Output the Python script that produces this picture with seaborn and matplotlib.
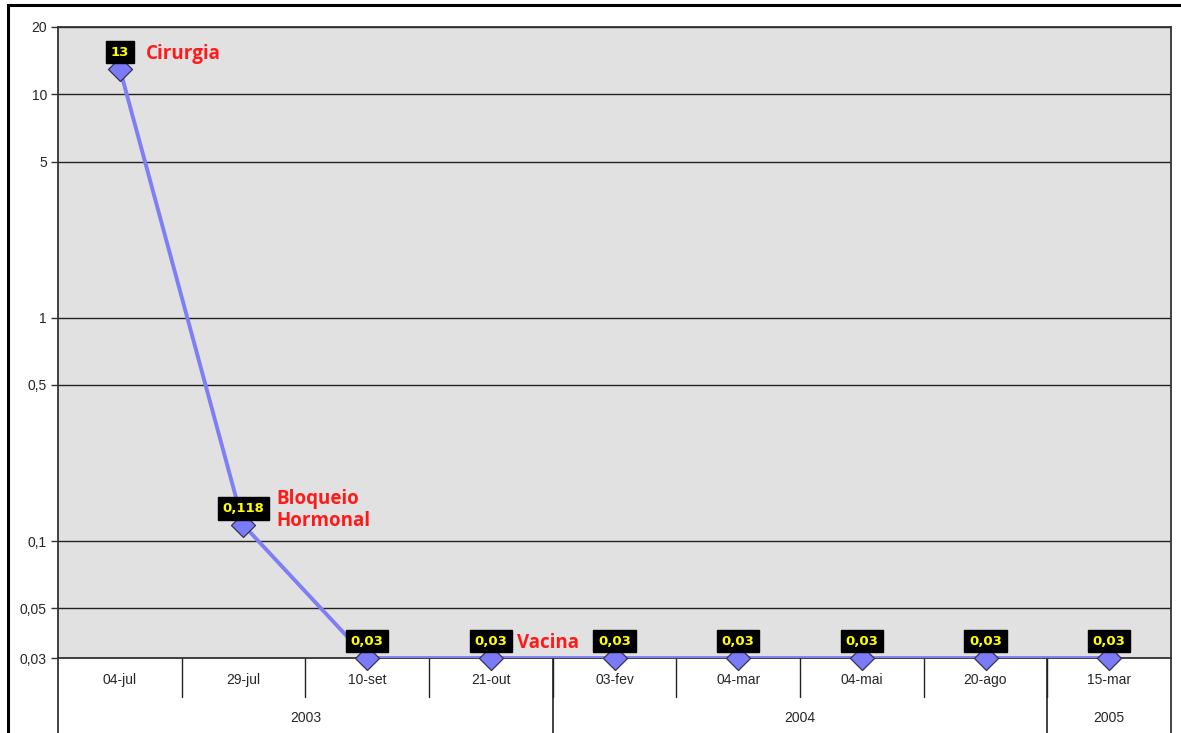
import numpy as np
import matplotlib
matplotlib.use("Agg")
import matplotlib.pyplot as plt
import matplotlib.ticker as mticker
from matplotlib.patches import Rectangle
import seaborn as sns

# data
datas = ["04-jul", "29-jul", "10-set", "21-out", "03-fev", "04-mar", "04-mai", "20-ago", "15-mar"]
valores = [13, 0.118, 0.03, 0.03, 0.03, 0.03, 0.03, 0.03, 0.03]
rotulos = ["13", "0,118", "0,03", "0,03", "0,03", "0,03", "0,03", "0,03", "0,03"]
anos = ["2003", "2004", "2005"]
n_por_ano = [4, 4, 1]
y_ticks = [0.03, 0.05, 0.1, 0.5, 1, 5, 10, 20]
y_tick_labels = ["0,03", "0,05", "0,1", "0,5", "1", "5", "10", "20"]
eventos = {0: "Cirurgia", 1: "Bloqueio\nHormonal", 3: "Vacina"}

sns.set_style("white")
plt.rcParams["font.family"] = ["Liberation Sans", "DejaVu Sans"]

fig = plt.figure(figsize=(11.81, 7.33), dpi=100)
ax = fig.add_axes([58 / 1181, 75 / 733, (1171 - 58) / 1181, 631 / 733])
ax.set_facecolor("#e1e1e1")

pos = np.arange(len(datas))
ax.set_yscale("log")
# line is clipped at the plot area, markers are not
sns.lineplot(x=pos, y=valores, ax=ax, color="#7f7ff5", linewidth=2.8, zorder=4)
sns.scatterplot(x=pos, y=valores, ax=ax, marker="D", s=150, color="#7b7bf7",
                edgecolor="#333355", linewidth=0.9, clip_on=False, zorder=5)

ax.set_ylim(0.03, 20)
ax.set_xlim(-0.5, len(datas) - 0.5)
ax.yaxis.set_major_locator(mticker.FixedLocator(y_ticks))
ax.yaxis.set_major_formatter(mticker.FixedFormatter(y_tick_labels))
ax.yaxis.set_minor_locator(mticker.NullLocator())
ax.tick_params(axis="y", left=True, length=5, width=1, color="#333333",
               labelsize=10, pad=3)
ax.set_xticks([])
ax.grid(axis="y", color="#222222", linewidth=1)
for s in ax.spines.values():
    s.set_color("#333333")
    s.set_linewidth(1.3)

# data labels
for i, (v, r) in enumerate(zip(valores, rotulos)):
    ax.annotate(r, (i, v), xytext=(0, 12), textcoords="offset points",
                ha="center", va="center", color="#ffff00", fontsize=9.5,
                fontweight="bold", family="DejaVu Sans",
                bbox=dict(boxstyle="square,pad=0.35", fc="black", ec="black"),
                zorder=6, annotation_clip=False)

# event labels
for i, txt in eventos.items():
    dx = 33 if i == 1 else 26
    ax.annotate(txt, (i, valores[i]), xytext=(dx * 0.72, 11), textcoords="offset points",
                ha="left", va="center", color="#ff1a1a", fontsize=13.5,
                fontweight="bold", family="Open Sans", linespacing=1.1,
                zorder=6, annotation_clip=False)

# category axis with year grouping
trans = ax.get_xaxis_transform()
h = 631
for k in range(1, len(datas)):
    ax.plot([k - 0.5, k - 0.5], [0, -39 / h], transform=trans, color="#222222",
            linewidth=1, clip_on=False)
for i, d in enumerate(datas):
    ax.text(i, -22 / h, d, transform=trans, ha="center", va="center", fontsize=10)
inicio = 0
bordas = [-0.5]
for ano, n in zip(anos, n_por_ano):
    ax.text(inicio + n / 2 - 0.5, -60 / h, ano, transform=trans, ha="center",
            va="center", fontsize=10)
    inicio += n
    bordas.append(inicio - 0.5)
for b in bordas:
    ax.plot([b, b], [0, -80 / h], transform=trans, color="#222222",
            linewidth=1.2, clip_on=False)

# outer chart border
fig.patches.append(Rectangle((8 / 1181, -0.05), 1.2, 0.05 + (733 - 5) / 733,
                             transform=fig.transFigure, fill=False,
                             edgecolor="black", linewidth=2.2))

fig.savefig("out.png", dpi=100)
